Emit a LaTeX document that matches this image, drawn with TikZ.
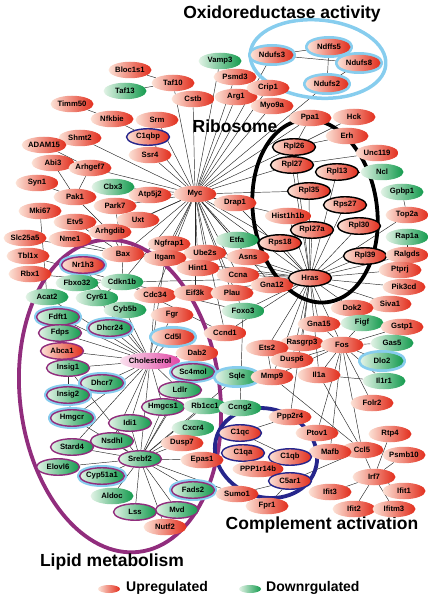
\documentclass[tikz,border=0pt]{standalone}
\usepackage{fontspec}
\setmainfont{Liberation Sans}
\usetikzlibrary{shapes.geometric,backgrounds}
\definecolor{upl}{RGB}{252,226,214}
\definecolor{upr}{RGB}{226,45,28}
\definecolor{dnl}{RGB}{226,243,230}
\definecolor{dnr}{RGB}{20,155,78}
\definecolor{chl}{RGB}{250,225,238}
\definecolor{chr}{RGB}{225,70,165}
\definecolor{navyc}{RGB}{38,38,140}
\definecolor{purc}{RGB}{145,45,125}
\definecolor{halc}{RGB}{135,205,238}
\begin{document}
\begin{tikzpicture}[x=1pt,y=-1pt,line join=round,
gene/.style={ellipse,inner sep=0pt,minimum width=43pt,minimum height=16.5pt,font=\fontsize{7.7}{8}\selectfont\bfseries},
upreg/.style={gene,left color=upl,right color=upr},
downreg/.style={gene,left color=dnl,right color=dnr},
ribo/.style={draw=black,line width=1.4pt},
compl/.style={draw=navyc,line width=1.4pt},
lipid/.style={draw=purc,line width=1.4pt},
halo/.style={preaction={draw=halc,line width=5.5pt}},
link/.style={line width=.45pt,draw=black!85},
title/.style={font=\fontsize{17.5}{18}\selectfont\bfseries}]
\useasboundingbox (0,0) rectangle (432,601);
\node[title] (oxtitle) at (282,14) {Oxidoreductase activity};
\node[title] (ribtitle) at (235,126) {Ribosome};
\node[title] (comtitle) at (322,525) {Complement activation};
\node[title] (liptitle) at (112,562) {Lipid metabolism};
\node[upreg,halo] (Ndufs3) at (272,55) {Ndufs3};
\node[upreg,halo] (Ndffs5) at (329,47) {Ndffs5};
\node[upreg,halo] (Ndufs8) at (359,63) {Ndufs8};
\node[upreg,halo] (Ndufs2) at (327,84) {Ndufs2};
\node[upreg] (Bloc1s1) at (130,70) {Bloc1s1};
\node[downreg] (Taf13) at (125,91) {Taf13};
\node[upreg] (Taf10) at (173,83) {Taf10};
\node[downreg] (Vamp3) at (220,61) {Vamp3};
\node[upreg] (Psmd3) at (235,77) {Psmd3};
\node[upreg] (Arg1) at (236,97) {Arg1};
\node[upreg] (Cstb) at (193,99) {Cstb};
\node[upreg] (Crip1) at (268,88) {Crip1};
\node[upreg] (Myo9a) at (272,106) {Myo9a};
\node[upreg] (Timm50) at (72,104) {Timm50};
\node[upreg] (Nfkbie) at (112,119) {Nfkbie};
\node[upreg] (Srm) at (157,120) {Srm};
\node[upreg,compl] (C1qbp) at (148,137) {C1qbp};
\node[upreg] (Shmt2) at (80,138) {Shmt2};
\node[upreg] (ADAM15) at (44,145) {ADAM15};
\node[upreg] (Ssr4) at (150,155) {Ssr4};
\node[upreg] (Ppa1) at (310,118) {Ppa1};
\node[upreg] (Hck) at (354,117) {Hck};
\node[upreg] (Erh) at (347,136) {Erh};
\node[upreg] (Abi3) at (53,163) {Abi3};
\node[upreg] (Arhgef7) at (90,168) {Arhgef7};
\node[upreg] (Syn1) at (37,183) {Syn1};
\node[downreg] (Cbx3) at (113,187) {Cbx3};
\node[upreg] (Pak1) at (75,197) {Pak1};
\node[upreg] (Atp5j2) at (150,195) {Atp5j2};
\node[upreg] (Myc) at (195,194) {Myc};
\node[upreg] (Drap1) at (235,203) {Drap1};
\node[upreg] (Mki67) at (40,211) {Mki67};
\node[upreg] (Park7) at (115,206) {Park7};
\node[upreg] (Etv5) at (75,222) {Etv5};
\node[upreg] (Uxt) at (138,220) {Uxt};
\node[upreg] (Arhgdib) at (110,232) {Arhgdib};
\node[upreg] (Slc25a5) at (25,238) {Slc25a5};
\node[upreg] (Nme1) at (70,239) {Nme1};
\node[upreg] (Ngfrap1) at (169,244) {Ngfrap1};
\node[downreg] (Etfa) at (237,240) {Etfa};
\node[upreg] (Bax) at (123,254) {Bax};
\node[upreg] (Tbl1x) at (28,256) {Tbl1x};
\node[upreg] (Ube2s) at (205,253) {Ube2s};
\node[upreg] (Asns) at (248,257) {Asns};
\node[upreg] (Itgam) at (165,258) {Itgam};
\node[upreg,lipid,halo] (Nr1h3) at (83,265) {Nr1h3};
\node[upreg] (Hint1) at (198,268) {Hint1};
\node[upreg] (Ccna) at (238,275) {Ccna};
\node[upreg] (Rbx1) at (30,274) {Rbx1};
\node[downreg] (Fbxo32) at (77,283) {Fbxo32};
\node[downreg] (Cdkn1b) at (122,282) {Cdkn1b};
\node[upreg] (Gna12) at (272,285) {Gna12};
\node[upreg,ribo] (Rpl26) at (294,147) {Rpl26};
\node[upreg] (Unc119) at (377,153) {Unc119};
\node[upreg,ribo] (Rpl27) at (292,165) {Rpl27};
\node[upreg,ribo] (Rpl13) at (337,172) {Rpl13};
\node[downreg] (Ncl) at (382,172) {Ncl};
\node[upreg,ribo] (Rpl35) at (309,191) {Rpl35};
\node[downreg] (Gpbp1) at (402,192) {Gpbp1};
\node[upreg,ribo] (Rps27) at (345,205) {Rps27};
\node[upreg] (Hist1h1b) at (288,216) {Hist1h1b};
\node[upreg] (Top2a) at (407,215) {Top2a};
\node[upreg,ribo] (Rpl27a) at (312,230) {Rpl27a};
\node[upreg,ribo] (Rpl30) at (359,226) {Rpl30};
\node[downreg] (Rap1a) at (407,237) {Rap1a};
\node[upreg,ribo] (Rps18) at (280,243) {Rps18};
\node[upreg,ribo] (Rpl39) at (365,256) {Rpl39};
\node[upreg] (Ralgds) at (407,255) {Ralgds};
\node[upreg,ribo] (Hras) at (310,278) {Hras};
\node[upreg] (Ptprj) at (400,270) {Ptprj};
\node[upreg] (Pik3cd) at (404,287) {Pik3cd};
\node[upreg] (Cdc34) at (155,295) {Cdc34};
\node[upreg] (Eif3k) at (195,293) {Eif3k};
\node[upreg] (Plau) at (232,293) {Plau};
\node[downreg] (Acat2) at (47,297) {Acat2};
\node[downreg] (Cyr61) at (97,298) {Cyr61};
\node[upreg] (Siva1) at (390,304) {Siva1};
\node[upreg] (Dok2) at (352,308) {Dok2};
\node[downreg] (Cyb5b) at (125,310) {Cyb5b};
\node[downreg] (Foxo3) at (243,311) {Foxo3};
\node[upreg] (Fgr) at (172,315) {Fgr};
\node[downreg,lipid,halo] (Fdft1) at (58,317) {Fdft1};
\node[upreg] (Gna15) at (319,324) {Gna15};
\node[downreg] (Figf) at (362,323) {Figf};
\node[upreg] (Gstp1) at (402,327) {Gstp1};
\node[downreg,lipid,halo] (Dhcr24) at (110,328) {Dhcr24};
\node[downreg,lipid] (Fdps) at (60,333) {Fdps};
\node[upreg] (Ccnd1) at (225,333) {Ccnd1};
\node[upreg,halo] (Cd5l) at (173,337) {Cd5l};
\node[upreg] (Rasgrp3) at (302,343) {Rasgrp3};
\node[upreg] (Fos) at (342,345) {Fos};
\node[downreg] (Gas5) at (392,343) {Gas5};
\node[upreg] (Ets2) at (267,348) {Ets2};
\node[upreg,lipid] (Abca1) at (62,351) {Abca1};
\node[upreg] (Dab2) at (197,353) {Dab2};
\node[upreg] (Dusp6) at (292,360) {Dusp6};
\node[downreg,halo] (Dlo2) at (382,361) {Dlo2};
\node[gene,left color=chl,right color=chr] (Cholesterol) at (150,361) {Cholesterol};
\node[downreg,lipid] (Insig1) at (68,368) {Insig1};
\node[downreg,lipid,halo] (Sc4mol) at (193,372) {Sc4mol};
\node[upreg] (Il1a) at (319,375) {Il1a};
\node[downreg,halo] (Sqle) at (237,377) {Sqle};
\node[upreg] (Mmp9) at (272,377) {Mmp9};
\node[downreg] (Il1r1) at (384,381) {Il1r1};
\node[downreg,lipid,halo] (Dhcr7) at (102,383) {Dhcr7};
\node[downreg,lipid] (Ldlr) at (180,390) {Ldlr};
\node[downreg,lipid,halo] (Insig2) at (68,395) {Insig2};
\node[upreg] (Folr2) at (372,403) {Folr2};
\node[downreg,lipid] (Hmgcs1) at (163,407) {Hmgcs1};
\node[downreg] (Rb1cc1) at (205,406) {Rb1cc1};
\node[downreg] (Ccng2) at (240,408) {Ccng2};
\node[upreg] (Ppp2r4) at (290,417) {Ppp2r4};
\node[downreg,lipid,halo] (Hmgcr) at (72,418) {Hmgcr};
\node[downreg,lipid] (Idi1) at (130,423) {Idi1};
\node[downreg] (Cxcr4) at (193,428) {Cxcr4};
\node[upreg,compl] (C1qc) at (240,433) {C1qc};
\node[upreg] (Ptov1) at (317,433) {Ptov1};
\node[upreg] (Rtp4) at (390,434) {Rtp4};
\node[downreg,lipid] (Nsdhl) at (112,441) {Nsdhl};
\node[upreg] (Dusp7) at (182,443) {Dusp7};
\node[downreg,lipid] (Stard4) at (72,447) {Stard4};
\node[upreg,compl] (C1qa) at (243,453) {C1qa};
\node[upreg] (Ccl5) at (362,450) {Ccl5};
\node[upreg] (Mafb) at (330,452) {Mafb};
\node[upreg] (Psmb10) at (404,455) {Psmb10};
\node[upreg,compl] (C1qb) at (290,457) {C1qb};
\node[downreg,lipid] (Srebf2) at (140,459) {Srebf2};
\node[upreg] (Epas1) at (202,460) {Epas1};
\node[downreg,lipid] (Elovl6) at (58,467) {Elovl6};
\node[upreg] (PPP1r14b) at (258,469) {PPP1r14b};
\node[downreg,lipid,halo] (Cyp51a1) at (102,476) {Cyp51a1};
\node[upreg] (Irf7) at (374,477) {Irf7};
\node[upreg,compl] (C5ar1) at (290,481) {C5ar1};
\node[downreg,lipid,halo] (Fads2) at (193,490) {Fads2};
\node[upreg] (Ifit3) at (330,492) {Ifit3};
\node[upreg] (Ifit1) at (404,491) {Ifit1};
\node[upreg] (Sumo1) at (237,494) {Sumo1};
\node[downreg] (Aldoc) at (112,496) {Aldoc};
\node[upreg] (Fpr1) at (267,506) {Fpr1};
\node[upreg] (Ifit2) at (354,509) {Ifit2};
\node[upreg] (Ifitm3) at (394,509) {Ifitm3};
\node[downreg,lipid] (Mvd) at (177,510) {Mvd};
\node[downreg,lipid] (Lss) at (135,512) {Lss};
\node[upreg] (Nutf2) at (165,527) {Nutf2};
\node[upreg,minimum width=22pt,minimum height=8pt] (upkey) at (109,589) {};
\node[anchor=west,inner sep=0pt,font=\fontsize{14}{15}\selectfont\bfseries] (uptext) at (126,588) {Upregulated};
\node[downreg,minimum width=22pt,minimum height=8pt] (downkey) at (250,589) {};
\node[anchor=west,inner sep=0pt,font=\fontsize{14}{15}\selectfont\bfseries] (downtext) at (266,588) {Downrgulated};
\begin{pgfonlayer}{background}
\foreach \g in {Taf10,Srm,C1qbp,Cstb,Vamp3,Psmd3,Arg1,Crip1,Myo9a,Ndufs3,Ndufs2,Shmt2,Arhgef7,Ssr4,Atp5j2,Uxt,Drap1,Hist1h1b,Etfa,Ngfrap1,Ube2s,Hint1,Asns,Ccna,Itgam,Bax,Cdkn1b,Arhgdib,Rpl26,Rpl27,Rpl35,Hras,Gna12,Eif3k,Plau,Ccnd1,Cdc34,Ppa1,Rps18,Foxo3,Park7,Cbx3} \draw[link] (Myc) -- (\g);
\foreach \g in {Rpl26,Rpl27,Rpl13,Rpl35,Rps27,Hist1h1b,Rpl27a,Rpl30,Rps18,Rpl39,Top2a,Ralgds,Ptprj,Pik3cd,Siva1,Dok2,Gna15,Rasgrp3,Fos,Dusp6,Il1a,Mmp9,Ets2,Ccnd1,Gna12,Ccna,Asns,Plau,Foxo3,Drap1,Eif3k,Cdkn1b,Bax,Ppp2r4,Hint1,Ube2s} \draw[link] (Hras) -- (\g);
\foreach \g in {Acat2,Fdft1,Dhcr24,Fdps,Abca1,Insig1,Dhcr7,Hmgcr,Idi1,Cyb5b,Cyr61,Nr1h3,Sc4mol,Ldlr,Hmgcs1,Srebf2,Cd5l,Dab2,Itgam,Fgr,Cdc34,Nsdhl,Stard4} \draw[link] (Cholesterol) -- (\g);
\foreach \g in {Stard4,Nsdhl,Elovl6,Cyp51a1,Aldoc,Lss,Mvd,Nutf2,Fads2,Idi1,Hmgcs1,Ldlr,Sc4mol,Cxcr4,Dusp7,Epas1,Sumo1,Hmgcr,Insig1,Rb1cc1,Sqle} \draw[link] (Srebf2) -- (\g);
\foreach \g in {Gna15,Figf,Gstp1,Gas5,Dlo2,Il1r1,Folr2,Rasgrp3,Il1a,Ccl5,Ptov1,Mafb,Mmp9,Dusp6} \draw[link] (Fos) -- (\g);
\foreach \g in {Rtp4,Psmb10,Ifit3,Ifit1,Ifit2,Ifitm3,Ccl5} \draw[link] (Irf7) -- (\g);
\foreach \a/\b in {Ndufs3/Ndffs5,Ndufs3/Ndufs8,Ndffs5/Ndufs2,Ndufs8/Ndufs2,Bloc1s1/Taf10,Taf13/Taf10,Timm50/Nfkbie,Nfkbie/C1qbp,ADAM15/Arhgef7,Abi3/Pak1,Syn1/Pak1,Arhgef7/Pak1,Pak1/Arhgdib,Mki67/Acat2,Etv5/Bax,Park7/Bax,Arhgdib/Bax,Slc25a5/Bax,Nme1/Bax,Tbl1x/Cdkn1b,Rbx1/Cdkn1b,Fbxo32/Cdkn1b,Bax/Cdkn1b,Cdkn1b/Cyr61,Cdkn1b/Cdc34,Cdkn1b/Ccnd1,Cdkn1b/Foxo3,Insig1/Insig2,Insig2/Hmgcr,Gpbp1/Top2a,Rap1a/Ralgds,Ncl/Rpl13,Unc119/Rpl27,Hck/Rpl26,Erh/Rpl26,Ppa1/Rpl26,Foxo3/Ccng2,Il1a/Il1r1,Il1a/Ccl5,Mmp9/Ccl5,C1qb/Ccl5,C5ar1/Ccl5,C5ar1/Fpr1,C1qc/Ppp2r4,C1qc/C1qb,Sumo1/C5ar1,Ets2/Mmp9} \draw[link] (\a) -- (\b);
\draw[line width=3.5pt,draw=halc,rotate around={-5:(318,59)}] (318,59) ellipse [x radius=68pt,y radius=39pt];
\draw[line width=3.8pt,draw=black,rotate around={8:(315,211)}] (315,211) ellipse [x radius=62pt,y radius=92pt];
\draw[line width=3.8pt,draw=purc,rotate around={7:(120,396)}] (120,396) ellipse [x radius=100pt,y radius=157pt];
\draw[line width=3.8pt,draw=navyc,rotate around={-20:(266,453)}] (266,453) ellipse [x radius=52pt,y radius=44pt];
\end{pgfonlayer}
\end{tikzpicture}
\end{document}
